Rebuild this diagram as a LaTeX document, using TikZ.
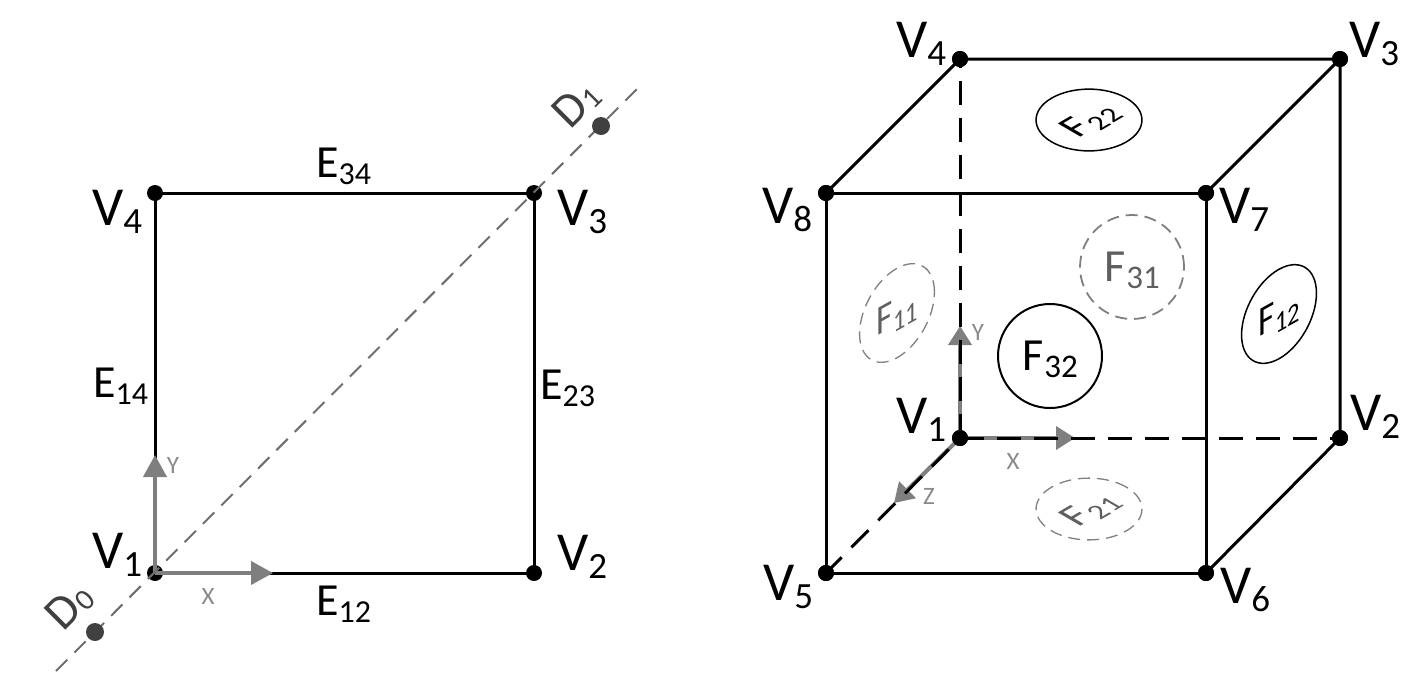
\documentclass[tikz,border=0pt]{standalone}
\usepackage{fontspec}
\setmainfont{Carlito}
\usetikzlibrary{arrows.meta}
\definecolor{axisgray}{HTML}{7F7F7F}
\definecolor{diaggray}{HTML}{6E6E6E}
\definecolor{dotgray}{HTML}{404040}
\definecolor{facegray}{HTML}{5F5F5F}
\definecolor{smallgray}{HTML}{8A8A8A}
\newcommand{\FS}[2]{\fontsize{#1}{#1}\selectfont #2}
\newcommand{\VL}[1]{\FS{55}{V}\raisebox{-8pt}{\FS{37}{#1}}}
\newcommand{\EL}[1]{\FS{46}{E}\raisebox{-7.5pt}{\FS{32}{#1}}}
\newcommand{\DL}[1]{\FS{48}{D}\kern1pt\raisebox{-2pt}{\FS{30}{#1}}}
\newcommand{\FL}[1]{\FS{46}{F}\kern1pt\raisebox{-7pt}{\FS{33}{#1}}}
\newcommand{\FLs}[1]{\FS{49}{F}\kern1pt\raisebox{-7pt}{\FS{34}{#1}}}
\tikzset{
  vdot/.style={circle,fill=black,minimum size=16pt,inner sep=0pt},
  ddot/.style={circle,fill=dotgray,minimum size=18pt,inner sep=0pt},
  edge3/.style={line width=3pt,black},
  hidden3/.style={line width=3pt,black,dash pattern=on 24pt off 13pt},
  hiddenz/.style={line width=3pt,black,dash pattern=on 24pt off 14pt,dash phase=22pt},
  axis3/.style={line width=4pt,axisgray,-{Triangle[length=22pt,width=23pt]}},
  axis3s/.style={line width=4pt,axisgray,-{Triangle[length=19pt,width=23pt]}},
  diag/.style={line width=2pt,diaggray,dash pattern=on 16pt off 10pt},
  vlab/.style={anchor=base west,inner sep=0pt},
  elab/.style={anchor=base west,inner sep=0pt},
  dlab/.style={inner sep=0pt,rotate=45,dotgray},
  small/.style={inner sep=0pt,smallgray,font=\fontsize{25}{25}\selectfont},
  facesolid/.style={circle,draw=black,minimum size=104pt,inner sep=0pt,text height=35pt,text depth=7pt,transform shape},
  facedash/.style={circle,draw=axisgray,text=facegray,dash pattern=on 12pt off 7pt,minimum size=104pt,inner sep=0pt,text height=35pt,text depth=7pt,transform shape},
  squashtop/.style={cm={.72,.42,-.72,.42,(0,0)}},
  squashside/.style={cm={.72,.40,0,.86,(0,0)}},
}
\begin{document}
\begin{tikzpicture}[x=1pt,y=-1pt]
\useasboundingbox (0,0) rectangle (1419,681);
% left square
\node[vdot] (a1) at (155,573) {};
\node[vdot] (a2) at (534,573) {};
\node[vdot] (a3) at (534,193) {};
\node[vdot] (a4) at (155,193) {};
\draw[edge3] (a1.center) -- (a2.center) -- (a3.center) -- (a4.center) -- cycle;
\coordinate (ax) at (273,573);
\coordinate (ay) at (155,455);
\draw[axis3] (a1.center) -- (ax);
\draw[axis3] (a1.center) -- (ay);
\coordinate (dstart) at (56,671);
\coordinate (dend) at (640,86);
\draw[diag] (dstart) -- (dend);
\node[ddot] (d0) at (95,632) {};
\node[ddot] (d1) at (601,126) {};
\node[vlab] (la1) at (92,568) {\VL{1}};
\node[vlab] (la2) at (557,570) {\VL{2}};
\node[vlab] (la3) at (557,225) {\VL{3}};
\node[vlab] (la4) at (92,225) {\VL{4}};
\node[elab] (e34) at (316,177) {\EL{34}};
\node[elab] (e12) at (316,615) {\EL{12}};
\node[elab] (e14) at (93,397) {\EL{14}};
\node[elab] (e23) at (540,399) {\EL{23}};
\node[dlab] (ld0) at (70,606) {\DL{0}};
\node[dlab] (ld1) at (576,104) {\DL{1}};
\node[small] (lx) at (208,596) {X};
\node[small] (ly) at (173,465) {Y};
% cube
\node[vdot] (b1) at (960,438) {};
\node[vdot] (b2) at (1340,438) {};
\node[vdot] (b3) at (1340,59) {};
\node[vdot] (b4) at (960,59) {};
\node[vdot] (b5) at (826,573) {};
\node[vdot] (b6) at (1206,573) {};
\node[vdot] (b7) at (1206,193) {};
\node[vdot] (b8) at (826,193) {};
\coordinate (bx) at (1075,438);
\coordinate (by) at (960,326);
\coordinate (bz) at (894,503);
\draw[axis3s] (b1.center) -- (bx);
\draw[axis3s] (b1.center) -- (by);
\draw[axis3s] (b1.center) -- (bz);
\draw[hidden3] (b1.center) -- (b2.center);
\draw[hidden3] (b1.center) -- (b4.center);
\draw[hiddenz] (b1.center) -- (b5.center);
\draw[edge3] (b5.center) -- (b6.center) -- (b7.center) -- (b8.center) -- cycle;
\draw[edge3] (b8.center) -- (b4.center) -- (b3.center) -- (b2.center) -- (b6.center);
\draw[edge3] (b7.center) -- (b3.center);
\node[vdot] at (b1) {};\node[vdot] at (b2) {};\node[vdot] at (b3) {};\node[vdot] at (b4) {};
\node[vdot] at (b5) {};\node[vdot] at (b6) {};\node[vdot] at (b7) {};\node[vdot] at (b8) {};
\node[vlab] (lb1) at (896,433) {\VL{1}};
\node[vlab] (lb2) at (1350,430) {\VL{2}};
\node[vlab] (lb3) at (1349,57) {\VL{3}};
\node[vlab] (lb4) at (896,57) {\VL{4}};
\node[vlab] (lb5) at (763,600) {\VL{5}};
\node[vlab] (lb6) at (1220,603) {\VL{6}};
\node[vlab] (lb7) at (1219,223) {\VL{7}};
\node[vlab] (lb8) at (762,223) {\VL{8}};
\node[small] (lbx) at (1013,461) {X};
\node[small] (lby) at (978,332) {Y};
\node[small] (lbz) at (929,496) {Z};
% faces
\node[facesolid,line width=2pt] (f32) at (1050,356) {\FL{32}};
\node[facedash,line width=1.8pt] (f31) at (1132,267) {\FL{31}};
\begin{scope}[shift={(1089,120)},squashtop]
\node[facesolid,line width=1.5pt] (f22) at (0,0) {\FLs{22}};
\end{scope}
\begin{scope}[shift={(1089,509)},squashtop]
\node[facedash,line width=1.3pt] (f21) at (0,0) {\FLs{21}};
\end{scope}
\begin{scope}[shift={(897,313)},squashside]
\node[facedash,line width=1.3pt] (f11) at (0,0) {\FLs{11}};
\end{scope}
\begin{scope}[shift={(1279,314)},squashside]
\node[facesolid,line width=1.5pt] (f12) at (0,0) {\FLs{12}};
\end{scope}
\end{tikzpicture}
\end{document}
